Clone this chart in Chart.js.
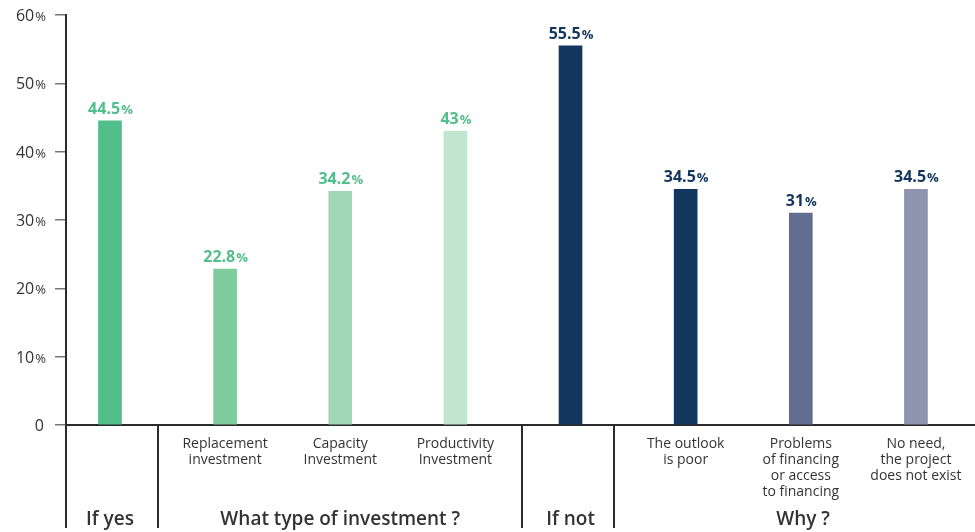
<!DOCTYPE html>
<html>
<head>
<meta charset="utf-8">
<script src="https://cdn.jsdelivr.net/npm/chart.js@4"></script>
<style>
  html, body { margin: 0; padding: 0; background: #fff; }
  #wrap { width: 975px; height: 532px; }
</style>
</head>
<body>
<div id="wrap"><canvas id="investChart"></canvas></div>
<script>
// survey answers, in percent
const categories = ['If yes', 'Replacement investment', 'Capacity Investment', 'Productivity Investment',
  'If not', 'The outlook is poor', 'Problems of financing or access to financing', 'No need, the project does not exist'];
const values = [44.5, 22.8, 34.2, 43, 55.5, 34.5, 31, 34.5];
const valueLabels = ['44.5', '22.8', '34.2', '43', '55.5', '34.5', '31', '34.5'];
const subLabels = [
  [],
  ['Replacement', 'investment'],
  ['Capacity', 'Investment'],
  ['Productivity', 'Investment'],
  [],
  ['The outlook', 'is poor'],
  ['Problems', 'of financing', 'or access', 'to financing'],
  ['No need,', 'the project', 'does not exist']
];
const groups = [
  { label: 'If yes', center: 0 },
  { label: 'What type of investment ?', center: 2 },
  { label: 'If not', center: 4 },
  { label: 'Why ?', center: 6.02 }
];
const yTicks = [0, 10, 20, 30, 40, 50, 60];

const barColors = ['#52be8a', '#7fcb9e', '#a1d7b7', '#c2e5d0', '#13365f', '#13365f', '#636d8f', '#8e93ae'];
const labelColors = ['#52be8a', '#52be8a', '#52be8a', '#52be8a', '#13365f', '#13365f', '#13365f', '#13365f'];
// group dividers below the axis, in x-scale units
const dividers = [0.415, 3.575, 4.375];

const FONT = '"Open Sans", sans-serif';
const TEXT = '#333333';

// draws a number followed by a smaller percent sign
function drawPercent(ctx, num, x, y, size, color, weight, align) {
  ctx.save();
  ctx.fillStyle = color;
  ctx.textBaseline = 'alphabetic';
  ctx.font = weight + ' ' + size + 'px ' + FONT;
  const w1 = ctx.measureText(num).width;
  ctx.font = weight + ' ' + Math.round(size * 0.8) + 'px ' + FONT;
  const w2 = ctx.measureText('%').width;
  const start = align === 'right' ? x - w1 - w2 : x - (w1 + w2) / 2;
  ctx.font = weight + ' ' + size + 'px ' + FONT;
  ctx.textAlign = 'left';
  ctx.fillText(num, start, y);
  ctx.font = weight + ' ' + Math.round(size * 0.8) + 'px ' + FONT;
  ctx.fillText('%', start + w1 + 1, y);
  ctx.restore();
}

const decorations = {
  id: 'decorations',
  afterDraw(chart) {
    const { ctx, chartArea, scales: { x, y } } = chart;
    const bottom = 528;

    // y tick labels
    yTicks.forEach(t => {
      const py = y.getPixelForValue(t) + 6;
      if (t === 0) {
        ctx.save();
        ctx.fillStyle = TEXT;
        ctx.font = '16px ' + FONT;
        ctx.textAlign = 'right';
        ctx.fillText('0', 44, py);
        ctx.restore();
      } else {
        drawPercent(ctx, String(t), 45, py, 16, TEXT, 'normal', 'right');
      }
    });

    // value labels above bars
    const meta = chart.getDatasetMeta(0);
    meta.data.forEach((bar, i) => {
      drawPercent(ctx, valueLabels[i], bar.x, bar.y - 7, 16, labelColors[i], 'bold', 'center');
    });

    // axis line extension and dividers
    ctx.save();
    ctx.strokeStyle = '#2b2b2b';
    ctx.lineWidth = 2;
    ctx.beginPath();
    ctx.moveTo(chartArea.left, chartArea.bottom);
    ctx.lineTo(chartArea.left, bottom);
    dividers.forEach(d => {
      const px = Math.round(x.getPixelForValue(d));
      ctx.moveTo(px, chartArea.bottom);
      ctx.lineTo(px, bottom);
    });
    ctx.stroke();
    ctx.restore();

    // category labels under the axis
    ctx.save();
    ctx.fillStyle = TEXT;
    ctx.textAlign = 'center';
    ctx.font = '14px ' + FONT;
    subLabels.forEach((lines, i) => {
      const px = x.getPixelForValue(i);
      lines.forEach((line, k) => ctx.fillText(line, px, chartArea.bottom + 23 + k * 16));
    });
    ctx.font = '600 19px ' + FONT;
    groups.forEach(g => ctx.fillText(g.label, x.getPixelForValue(g.center), bottom - 3));
    ctx.restore();
  }
};

const data = {
  datasets: [{
    data: values.map((v, i) => ({ x: i, y: v })),
    backgroundColor: barColors,
    barThickness: 23,
    borderWidth: 0
  }]
};

const config = {
  type: 'bar',
  data: data,
  options: {
    responsive: true,
    maintainAspectRatio: false,
    animation: false,
    layout: { padding: { top: 15, left: 0, right: 0, bottom: 0 } },
    plugins: { legend: { display: false }, tooltip: { enabled: false } },
    scales: {
      x: {
        type: 'linear',
        offset: false,
        min: -0.382,
        max: 7.513,
        afterFit: s => { s.height = 107; },
        ticks: { display: false },
        grid: { display: false, offset: false },
        border: { display: true, color: '#2b2b2b', width: 2 }
      },
      y: {
        min: 0,
        max: 60,
        afterFit: s => { s.width = 66; },
        ticks: { display: false, stepSize: 10 },
        grid: { drawOnChartArea: false, drawTicks: true, tickLength: 11, color: '#777777', lineWidth: 1.5 },
        border: { display: true, color: '#2b2b2b', width: 2 }
      }
    }
  },
  plugins: [decorations]
};

const ctx = document.getElementById('investChart').getContext('2d');
new Chart(ctx, config);
</script>
</body>
</html>
